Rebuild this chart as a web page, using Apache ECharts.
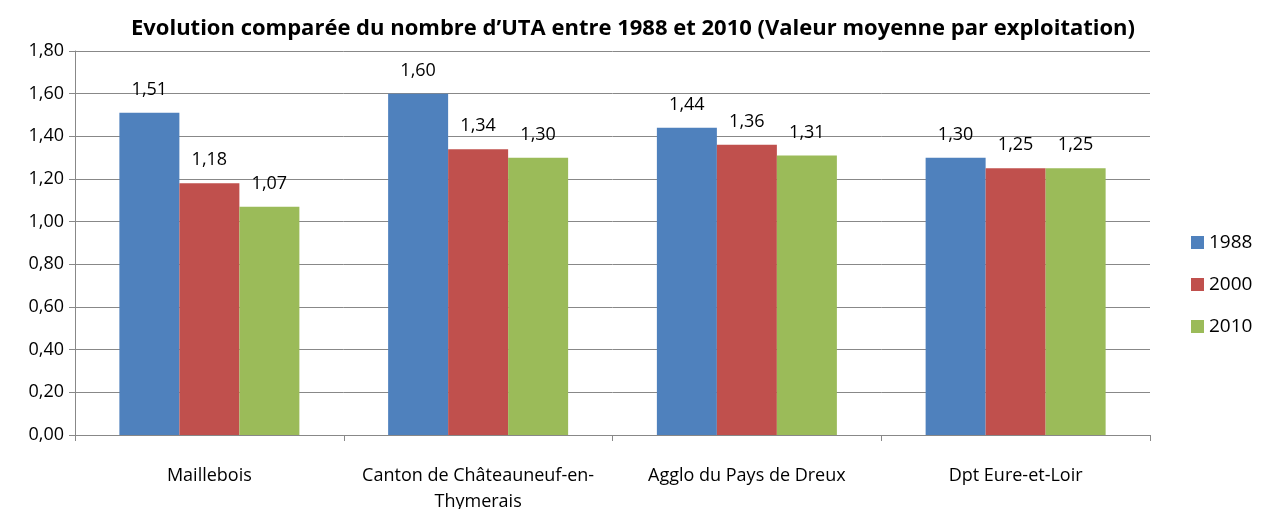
<!DOCTYPE html>
<html><head><meta charset="utf-8">
<script src="https://cdn.jsdelivr.net/npm/echarts@6/dist/echarts.min.js"></script>
<style>html,body{margin:0;padding:0;background:#fff}#c{width:1261px;height:509px}</style>
</head><body><div id="c"></div>
<script>
const categories = ['Maillebois', 'Canton de Châteauneuf-en-Thymerais', 'Agglo du Pays de Dreux', 'Dpt Eure-et-Loir'];
const seriesNames = ['1988', '2000', '2010'];
const v1988 = [1.51, 1.60, 1.44, 1.30];
const v2000 = [1.18, 1.34, 1.36, 1.25];
const v2010 = [1.07, 1.30, 1.31, 1.25];
const colors = ['#4F81BD', '#C0504D', '#9BBB59'];
const font = '"Open Sans", sans-serif';
const fmt = v => v.toFixed(2).replace('.', ',');
const chart = echarts.init(document.getElementById('c'));
const mk = (name, data, i) => ({
  name, type: 'bar', data, barWidth: 60, barGap: '0%', barCategoryGap: '33%',
  itemStyle: { color: colors[i] },
  label: { show: true, position: 'top', distance: 14, formatter: p => fmt(p.value), color: '#000', fontFamily: font, fontSize: 18 }
});
chart.setOption({
  animation: false,
  title: { text: 'Evolution comparée du nombre d\u2019UTA entre 1988 et 2010 (Valeur moyenne par exploitation)', left: 628, top: 13, textAlign: 'center',
    textStyle: { fontFamily: font, fontWeight: 'bold', fontSize: 22, color: '#000' } },
  grid: { left: 75, right: 111, top: 51, bottom: 74, outerBoundsMode: 'none', containLabel: false },
  legend: { orient: 'vertical', left: 1186, top: 228, itemWidth: 13, itemHeight: 13, itemGap: 23, icon: 'rect',
    textStyle: { fontFamily: font, fontSize: 19, color: '#000' }, data: seriesNames },
  xAxis: { type: 'category', data: categories,
    axisLine: { lineStyle: { color: '#888' } },
    axisTick: { show: true, length: 6, lineStyle: { color: '#888' } },
    axisLabel: { interval: 0, fontFamily: font, fontSize: 18, color: '#000', margin: 28, lineHeight: 26,
      formatter: v => v.replace('-en-Thymerais', '-en-\nThymerais') } },
  yAxis: { type: 'value', min: 0, max: 1.8, interval: 0.2,
    axisLine: { show: true, lineStyle: { color: '#888' } },
    axisTick: { show: true, length: 6, inside: false, lineStyle: { color: '#888' } },
    splitLine: { lineStyle: { color: '#888' } },
    axisLabel: { fontFamily: font, fontSize: 18, color: '#000', margin: 11, formatter: v => fmt(v) } },
  series: [mk(seriesNames[0], v1988, 0), mk(seriesNames[1], v2000, 1), mk(seriesNames[2], v2010, 2)]
});
</script></body></html>
